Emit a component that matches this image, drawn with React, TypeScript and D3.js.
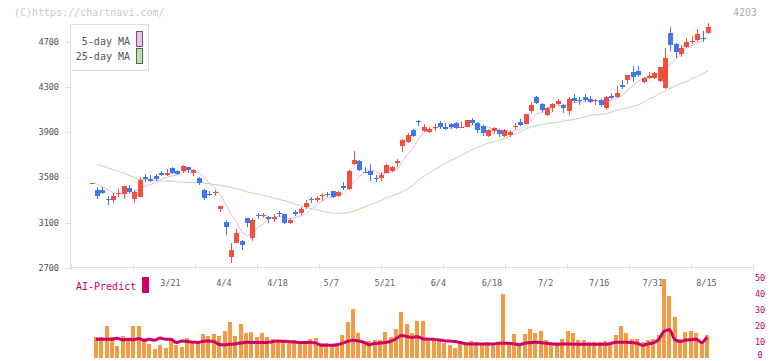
import * as React from "react";
import * as d3 from "d3";

const W = 772;
const H = 361;

// daily candles, 2/28 .. 8/15 (116 trading days)
const opens = [3448, 3388, 3388, 3309, 3303, 3350, 3350, 3409, 3306, 3329, 3501, 3486, 3513, 3542, 3518, 3581, 3560, 3560, 3589, 3542,
  3498, 3388, 3353, 3365, 3220, 3108, 2798, 2922, 2940, 3138, 2960, 3168, 3160, 3146, 3129, 3185, 3176, 3093, 3197, 3182,
  3235, 3306, 3300, 3332, 3356, 3377, 3335, 3424, 3395, 3619, 3648, 3551, 3560, 3492, 3492, 3542, 3557, 3631, 3778, 3817,
  3920, 3996, 3914, 3902, 3938, 3985, 3950, 3970, 3982, 3947, 3950, 4009, 3985, 3955, 3870, 3914, 3920, 3867, 3873, 3955,
  3994, 3973, 4088, 4215, 4147, 4053, 4118, 4147, 4138, 4091, 4201, 4183, 4215, 4195, 4180, 4186, 4112, 4224, 4215, 4319,
  4363, 4431, 4446, 4348, 4378, 4378, 4357, 4295, 4782, 4682, 4590, 4658, 4697, 4717, 4738, 4777];
const highs = [3448, 3418, 3412, 3338, 3359, 3397, 3428, 3433, 3388, 3500, 3530, 3521, 3530, 3560, 3572, 3595, 3566, 3613, 3595, 3575,
  3507, 3394, 3380, 3385, 3247, 3123, 2922, 3043, 2946, 3143, 3143, 3188, 3188, 3158, 3173, 3203, 3180, 3143, 3212, 3241,
  3300, 3330, 3335, 3365, 3374, 3383, 3377, 3462, 3566, 3734, 3654, 3595, 3619, 3521, 3545, 3619, 3604, 3663, 3841, 3891,
  3929, 4009, 3973, 3950, 3970, 4003, 3979, 3979, 3988, 3994, 4012, 4029, 3994, 3964, 3929, 3950, 3929, 3929, 3914, 3985,
  4015, 4065, 4171, 4224, 4156, 4127, 4156, 4192, 4147, 4215, 4239, 4209, 4239, 4218, 4195, 4195, 4224, 4245, 4310, 4363,
  4410, 4487, 4487, 4392, 4431, 4437, 4481, 4644, 4836, 4688, 4673, 4738, 4753, 4815, 4797, 4865];
const lows = [3448, 3309, 3350, 3256, 3276, 3329, 3312, 3359, 3276, 3329, 3462, 3462, 3471, 3513, 3513, 3530, 3521, 3542, 3536, 3513,
  3433, 3300, 3335, 3335, 3197, 2990, 2745, 2915, 2857, 3064, 2940, 3132, 3138, 3093, 3108, 3152, 3090, 3087, 3158, 3167,
  3217, 3276, 3282, 3294, 3330, 3315, 3330, 3389, 3389, 3610, 3560, 3536, 3468, 3460, 3471, 3536, 3551, 3595, 3728, 3802,
  3855, 3956, 3905, 3890, 3911, 3929, 3920, 3929, 3932, 3935, 3947, 3964, 3896, 3867, 3861, 3885, 3861, 3855, 3855, 3932,
  3955, 3970, 4059, 4150, 4073, 4044, 4076, 4142, 4073, 4053, 4156, 4142, 4165, 4156, 4142, 4127, 4097, 4195, 4201, 4283,
  4328, 4348, 4392, 4333, 4369, 4372, 4348, 4283, 4620, 4555, 4570, 4650, 4682, 4703, 4703, 4768];
const closes = [3448, 3338, 3365, 3297, 3335, 3365, 3424, 3368, 3371, 3477, 3483, 3468, 3483, 3518, 3542, 3542, 3530, 3604, 3566, 3563,
  3454, 3321, 3341, 3371, 3247, 3064, 2857, 3011, 2898, 3093, 3123, 3162, 3166, 3135, 3146, 3180, 3093, 3123, 3173, 3220,
  3277, 3300, 3315, 3347, 3350, 3324, 3371, 3409, 3560, 3654, 3566, 3545, 3521, 3486, 3524, 3613, 3589, 3643, 3832, 3876,
  3867, 3990, 3944, 3929, 3944, 3950, 3926, 3947, 3941, 3950, 4009, 3979, 3920, 3896, 3920, 3941, 3882, 3920, 3905, 3958,
  3964, 4062, 4142, 4156, 4097, 4118, 4147, 4177, 4112, 4195, 4180, 4177, 4186, 4171, 4186, 4142, 4215, 4206, 4251, 4304,
  4407, 4392, 4407, 4378, 4401, 4428, 4475, 4561, 4673, 4608, 4650, 4703, 4712, 4771, 4726, 4836];

const ma5 = [null, 3445, 3420, 3392, 3370, 3350, 3357, 3358, 3373, 3401, 3425, 3433, 3456, 3486, 3499, 3511, 3523, 3547, 3557, 3561,
  3543, 3502, 3449, 3410, 3347, 3269, 3176, 3110, 3015, 2985, 2996, 3057, 3088, 3136, 3146, 3158, 3144, 3135, 3143, 3158,
  3177, 3219, 3257, 3292, 3318, 3327, 3341, 3360, 3403, 3464, 3512, 3547, 3569, 3554, 3528, 3538, 3547, 3571, 3640, 3711,
  3761, 3842, 3902, 3921, 3935, 3951, 3939, 3939, 3942, 3943, 3955, 3965, 3960, 3951, 3945, 3931, 3912, 3912, 3914, 3921,
  3926, 3962, 4006, 4056, 4084, 4115, 4132, 4139, 4130, 4150, 4162, 4168, 4170, 4182, 4180, 4172, 4180, 4184, 4200, 4224,
  4277, 4312, 4352, 4378, 4397, 4401, 4418, 4449, 4508, 4549, 4593, 4639, 4669, 4689, 4712, 4750];
const ma25 = [null, 3614, 3603, 3585, 3570, 3555, 3540, 3520, 3500, 3484, 3478, 3472, 3470, 3469, 3468, 3466, 3463, 3458, 3456, 3456,
  3455, 3450, 3444, 3437, 3429, 3421, 3412, 3400, 3390, 3372, 3362, 3352, 3342, 3330, 3318, 3305, 3295, 3280, 3265, 3250,
  3236, 3224, 3211, 3200, 3190, 3184, 3182, 3182, 3190, 3202, 3222, 3240, 3258, 3275, 3295, 3318, 3335, 3355, 3375, 3400,
  3430, 3475, 3510, 3540, 3570, 3595, 3625, 3650, 3670, 3695, 3720, 3745, 3765, 3785, 3803, 3815, 3830, 3845, 3866, 3885,
  3905, 3930, 3945, 3960, 3968, 3975, 3985, 3990, 3998, 4005, 4015, 4025, 4038, 4050, 4056, 4060, 4062, 4080, 4095, 4108,
  4115, 4128, 4142, 4165, 4195, 4215, 4245, 4265, 4292, 4312, 4332, 4350, 4378, 4395, 4420, 4443];

const volume = [0, 13.3, 13.3, 19.6, 13.3, 7.5, 13.8, 12.1, 20.2, 19.6, 11.3, 8.8, 5.8, 7.9, 6.3, 12.1, 8.1, 7.1, 12.3, 10.6,
  10.6, 15, 13.8, 15, 13.8, 16.5, 22.5, 13.8, 21.3, 15.4, 16.3, 13.1, 15.8, 13.1, 11.7, 11.3, 10.6, 10.6, 11.3, 10.6,
  10.6, 11.9, 12.3, 9.6, 9.2, 8.8, 8.8, 14.4, 22.5, 30.4, 15.8, 10, 10.6, 11.3, 11.3, 16, 13.3, 18.3, 28.3, 21.3,
  15.8, 23.1, 23.1, 10.6, 11.7, 11.3, 9.6, 8.1, 6.5, 9.2, 9.6, 10.8, 10, 9.2, 10.2, 9.6, 9.6, 39.6, 10.2, 15,
  8.1, 15, 18.1, 15.6, 16.5, 11.3, 9.6, 10, 11.9, 16.9, 15.8, 11.3, 11.3, 10.2, 10.2, 10.2, 10.6, 8.1, 14.4, 20,
  15.8, 11.9, 11.9, 10.2, 11.3, 11.7, 14.4, 49.4, 38.8, 25.2, 11.7, 16, 16.5, 15.8, 9.6, 14.4];
const aiPredict = [null, 11.7, 11.7, 11.7, 11.7, 12.3, 11.3, 11.7, 11.4, 12.1, 11.0, 11.7, 11.0, 12.5, 11.7, 11.7, 9.6, 10.6, 10.3, 9.9,
  9.7, 10.4, 10.6, 10.2, 8.4, 8.2, 8.5, 8.8, 9.3, 9.8, 9.7, 9.6, 9.6, 9.7, 10.2, 10.6, 10.4, 10.2, 10.0, 9.6,
  9.6, 9.6, 9.4, 8.0, 7.9, 7.9, 8.2, 9.2, 10.4, 11.0, 10.6, 9.8, 8.3, 9.0, 9.3, 9.6, 10.4, 12.0, 14.0, 13.4,
  12.8, 13.2, 12.0, 11.7, 11.7, 11.2, 10.8, 10.5, 10.2, 9.6, 8.9, 8.75, 8.75, 8.75, 8.75, 8.75, 9.1, 9.2, 9.2, 8.8,
  8.3, 9.2, 9.5, 9.8, 9.6, 9.2, 8.9, 8.5, 8.7, 8.75, 8.6, 8.5, 8.5, 8.5, 8.5, 8.5, 8.5, 9.0, 9.8, 9.8,
  9.8, 9.6, 9.2, 7.9, 8.75, 9.4, 11.5, 16.5, 17.5, 11.5, 10.2, 11.0, 11.4, 11.6, 9.6, 13.0];

const xLabels = ["3/21", "4/4", "4/18", "5/7", "5/21", "6/4", "6/18", "7/2", "7/16", "7/31", "8/15"];
const xLabelIdx = [15, 25, 35, 45, 55, 65, 75, 85, 95, 105, 115];
const yTicks = [2700, 3100, 3500, 3900, 4300, 4700];
const volTicks = [0, 10, 20, 30, 40, 50];

const RED = "#f24f3f";
const BLUE = "#3f78ea";
const MAGENTA = "#cc0066";
const FONT = "'DejaVu Sans Mono', monospace";

export default function App() {
  const x = d3.scaleLinear().domain([0, closes.length - 1]).range([91.5, 707.9]);
  const y = d3.scaleLinear().domain([2700, 4700]).range([267.7, 42]);
  const yv = d3.scaleLinear().domain([0, 50]).range([358, 277.6]);
  const grid = d3.scaleLinear().domain([0, 11]).range([70.5, 752.5]);

  const lineMa = d3.line<number | null>()
    .defined(d => d != null)
    .x((_, i) => x(i))
    .y(d => y(d as number));
  const lineAi = d3.line<number | null>()
    .defined(d => d != null)
    .x((_, i) => x(i) - 1)
    .y(d => yv(d as number))
    .curve(d3.curveMonotoneX);

  return (
    <svg width={W} height={H} style={{ display: "block", position: "absolute", left: 0, top: 0, background: "#fff" }}
      fontFamily={FONT}>
      <text x={14} y={16} fontSize={10} fill="#c8c8c8">(C)https://chartnavi.com/</text>
      <text x={757} y={16} fontSize={10} fill="#b0b0b0" textAnchor="end">4203</text>

      {/* axes */}
      <line x1={70.5} y1={24} x2={70.5} y2={270} stroke="#e0e0e0" />
      <line x1={70} y1={267.5} x2={753} y2={267.5} stroke="#e0e0e0" />
      {d3.range(12).map(k => (
        <line key={k} x1={Math.round(grid(k)) + 0.5} x2={Math.round(grid(k)) + 0.5} y1={264} y2={270} stroke="#e0e0e0" />
      ))}
      {yTicks.map(t => (
        <g key={t}>
          <line x1={65} x2={70} y1={Math.round(y(t)) + 0.5} y2={Math.round(y(t)) + 0.5} stroke="#e0e0e0" />
          <text x={59} y={y(t)} dy="0.35em" fontSize={8.5} fill="#505050" textAnchor="end">{t}</text>
        </g>
      ))}
      {xLabels.map((l, k) => (
        <text key={l} x={x(xLabelIdx[k]) - 1.5} y={285.5} fontSize={8.5} fill="#606060" textAnchor="middle">{l}</text>
      ))}

      {/* moving averages */}
      <path d={lineMa(ma25) || ""} fill="none" stroke="#b6dca6" strokeWidth={1} />
      <path d={lineMa(ma5) || ""} fill="none" stroke="#e8b6ea" strokeWidth={1} />

      {/* candles */}
      <g shapeRendering="crispEdges">
        {closes.map((c, i) => {
          const o = opens[i];
          const cx = Math.round(x(i));
          const col = c >= o ? RED : BLUE;
          const top = y(Math.max(o, c));
          const bh = Math.max(1, y(Math.min(o, c)) - top);
          return (
            <g key={i}>
              <rect x={cx} y={y(highs[i])} width={1} height={Math.max(1, y(lows[i]) - y(highs[i]))} fill={col} />
              <rect x={cx - 2} y={top} width={5} height={bh} fill={col} />
            </g>
          );
        })}
      </g>

      {/* legend */}
      <rect x={70.5} y={24.5} width={78} height={46} fill="#fff" stroke="#dedede" />
      <text x={130} y={45} fontSize={10} fill="#555" textAnchor="end">5-day MA</text>
      <text x={130} y={60} fontSize={10} fill="#555" textAnchor="end">25-day MA</text>
      <rect x={136.5} y={31.5} width={6} height={15} fill="#efbdf0" stroke="#606060" />
      <rect x={136.5} y={48.5} width={6} height={15} fill="#c0e2b2" stroke="#606060" />

      {/* volume panel */}
      <g shapeRendering="crispEdges">
        {volume.map((v, i) => v > 0 ? (
          <rect key={i} x={Math.round(x(i)) - 3} y={yv(v)} width={4} height={yv(0) - yv(v)} fill="#f29a44" />
        ) : null)}
      </g>
      <path d={lineAi(aiPredict) || ""} fill="none" stroke={MAGENTA} strokeWidth={3} strokeLinejoin="round" />
      {volTicks.map(t => (
        <text key={t} x={760} y={Math.min(yv(t), 355.5)} dy="0.35em" fontSize={8.5} fill={MAGENTA} textAnchor="middle">{t}</text>
      ))}
      <text x={76} y={290} fontSize={10} fill={MAGENTA}>AI-Predict</text>
      <rect x={142} y={277} width={7} height={16} fill={MAGENTA} />
    </svg>
  );
}
